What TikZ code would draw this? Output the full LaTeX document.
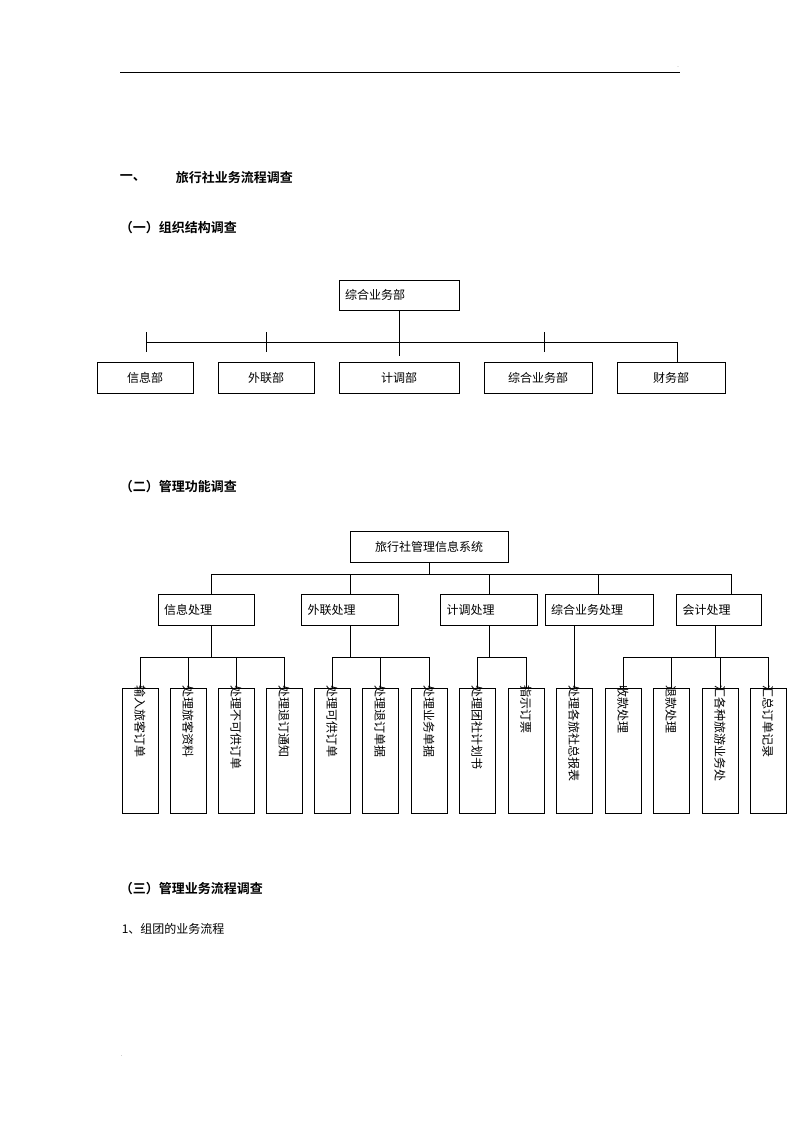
\documentclass[tikz,border=0pt]{standalone}
\usepackage{fontspec}
\newfontfamily\cjk{Noto Sans CJK SC}
\newfontfamily\cjkb{Noto Sans CJK SC Bold}
\begin{document}
\begin{tikzpicture}[x=1pt,y=-1pt,line width=0.9pt,
  box/.style={draw,inner sep=0,font=\cjk\fontsize{12}{12}\selectfont},
  vbox/.style={draw,minimum width=36pt,minimum height=125pt,inner sep=0,anchor=north},
  vt/.style={rotate=-90,font=\cjk\fontsize{12}{12}\selectfont},
  hd/.style={anchor=west,font=\cjkb\fontsize{13}{13}\selectfont}]
\useasboundingbox (0,0) rectangle (800,1132);
\draw[line width=0.6pt] (120,72) -- (680,72);
\node[font=\fontsize{5}{5}\selectfont] (d1) at (678,67) {.};
\node[font=\fontsize{5}{5}\selectfont] (d2) at (122,1056) {.};
\node[hd] (h1) at (116,178) {一、};
\node[hd] (h1b) at (172,178) {旅行社业务流程调查};
\node[hd] (h2) at (116,228) {（一）组织结构调查};
\node[hd] (h3) at (116,487) {（二）管理功能调查};
\node[hd] (h4) at (116,889) {（三）管理业务流程调查};
\node[anchor=west,font=\cjk\fontsize{12}{12}\selectfont] (h5) at (118,929) {1、组团的业务流程};
% org chart
\node[box,minimum width=120pt,minimum height=30pt] (top) at (399,295) {};
\node[anchor=west,font=\cjk\fontsize{12}{12}\selectfont] at (top.west) {\ 综合业务部};
\node[box,minimum width=96pt,minimum height=31pt] (o1) at (145,378) {信息部};
\node[box,minimum width=96pt,minimum height=31pt] (o2) at (266,378) {外联部};
\node[box,minimum width=120pt,minimum height=31pt] (o3) at (399,378) {计调部};
\node[box,minimum width=108pt,minimum height=31pt] (o4) at (538,378) {综合业务部};
\node[box,minimum width=108pt,minimum height=31pt] (o5) at (671,378) {财务部};
\coordinate (bl) at (146,342); \coordinate (br) at (677,342);
\draw (bl) -- (br);
\draw (top.south) -- (399,356);
\draw (146,332) -- (146,352);
\draw (266,332) -- (266,352);
\draw (544,332) -- (544,352);
\draw (br) -- (677,362);
% function chart
\node[box,minimum width=158pt,minimum height=31pt] (ft) at (429,547) {旅行社管理信息系统};
\draw (ft.south) -- (429,574);
\draw (211,574) -- (731,574);
\foreach \n/\x/\w/\t in {f1/206/96/信息处理,f2/350/97/外联处理,f3/489/97/计调处理,f4/599/108/综合业务处理,f5/719/85/会计处理}{
  \node[box,minimum width=\w pt,minimum height=31pt] (\n) at (\x,610) {};
  \node[anchor=west,font=\cjk\fontsize{12}{12}\selectfont] at (\n.west) {\ \t};
}
\foreach \x in {211,350,489,598,731} \draw (\x,574) -- (\x,594);
\foreach \i/\x/\t in {1/140/输入旅客订单,2/188/处理旅客资料,3/236/处理不可供订单,4/284/处理退订通知,5/332/处理可供订单,6/380/处理退订单据,7/429/处理业务单据,8/477/处理团社计划书,9/526/指示订票,10/574/处理各旅社总报表,11/623/收款处理,12/671/退款处理,13/720/汇各种旅游业务处,14/768/汇总订单记录}{
  \node[vbox] (v\i) at (\x,688) {};
  \node[vt,anchor=west] at ([yshift=6pt]v\i.north) {\t};
  \draw (\x,657) -- (v\i.north);
}
\draw (140,657) -- (284,657); \draw (211,625) -- (211,657);
\draw (332,657) -- (429,657); \draw (350,625) -- (350,657);
\draw (477,657) -- (526,657); \draw (489,625) -- (489,657);
\draw (574,625) -- (574,657);
\draw (623,657) -- (768,657); \draw (715,625) -- (715,657);
\end{tikzpicture}
\end{document}
